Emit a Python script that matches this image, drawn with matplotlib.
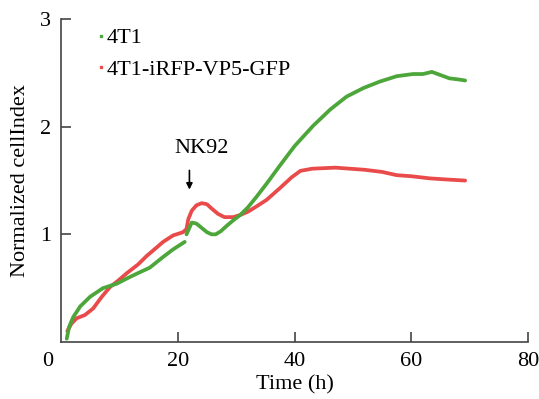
import matplotlib
matplotlib.use('Agg')
import matplotlib.pyplot as plt
from matplotlib.lines import Line2D

plt.rcParams['font.family'] = ['Liberation Serif', 'DejaVu Serif']

green_t1 = [1.0, 1.4, 2.1, 3.3, 5.0, 7.2, 9.5, 11.3, 13.2, 15.2, 17.5, 19.2, 21.2]
green_y1 = [0.03, 0.14, 0.23, 0.33, 0.42, 0.50, 0.54, 0.59, 0.64, 0.69, 0.79, 0.86, 0.93]
green_t2 = [21.5, 22.4, 23.2, 24.1, 25.0, 25.8, 26.5, 27.4, 28.4, 29.5, 30.7, 32.0,
            33.5, 35.2, 37.5, 40.0, 43.2, 46.1, 48.9, 51.8, 54.6, 57.5, 60.3, 62.0,
            63.5, 65.0, 66.5, 68.0, 69.2]
green_y2 = [1.00, 1.11, 1.10, 1.06, 1.02, 1.00, 1.00, 1.03, 1.08, 1.13, 1.18, 1.25,
            1.35, 1.47, 1.64, 1.82, 2.01, 2.16, 2.28, 2.36, 2.42, 2.47, 2.49, 2.49,
            2.51, 2.48, 2.45, 2.44, 2.43]

red_t = [1.1, 1.8, 2.7, 4.1, 5.5, 7.0, 8.4, 9.8, 11.3, 13.2, 14.7, 16.0, 17.5, 19.2,
         20.9, 21.5, 21.8, 22.4, 23.2, 24.1, 25.0, 25.8, 26.9, 28.0, 29.5, 30.7,
         32.0, 33.5, 35.2, 37.5, 39.5, 41.0, 43.0, 47.0, 52.0, 55.0, 57.5, 60.0,
         63.2, 66.0, 69.2]
red_y = [0.10, 0.17, 0.22, 0.25, 0.31, 0.42, 0.51, 0.57, 0.64, 0.72, 0.80, 0.86,
         0.93, 0.99, 1.02, 1.05, 1.14, 1.22, 1.27, 1.29, 1.28, 1.24, 1.19, 1.16,
         1.16, 1.18, 1.21, 1.26, 1.32, 1.43, 1.53, 1.59, 1.61, 1.62, 1.60, 1.58,
         1.55, 1.54, 1.52, 1.51, 1.50]

green = '#4ca63a'
red = '#e94a4a'
axis_col = '#444444'

fig = plt.figure(figsize=(5.39, 3.99), dpi=100)
ax = fig.add_axes([0.113, 0.143, 0.867, 0.809])

ax.plot(red_t, red_y, color=red, lw=2.7, solid_capstyle='round', solid_joinstyle='round')
ax.plot(green_t1, green_y1, color=green, lw=2.7, solid_capstyle='round', solid_joinstyle='round')
ax.plot(green_t2, green_y2, color=green, lw=2.7, solid_capstyle='round', solid_joinstyle='round')

ax.set_xlim(0, 80)
ax.set_ylim(0, 3)
ax.set_xticks([20, 40, 60, 80])
ax.set_yticks([1, 2, 3])
ax.tick_params(direction='in', length=7, width=1.2, color=axis_col,
               labelsize=16, pad=7)
for s in ['top', 'right']:
    ax.spines[s].set_visible(False)
for s in ['left', 'bottom']:
    ax.spines[s].set_color(axis_col)
    ax.spines[s].set_linewidth(1.2)

ax.text(-2.2, -0.185, '0', ha='center', va='center', fontsize=16, clip_on=False)
ax.set_xlabel('Time (h)', fontsize=16, labelpad=3)
ax.set_ylabel('Normalized cellIndex', fontsize=16, labelpad=7)

ax.annotate('', xy=(22, 1.39), xytext=(22, 1.62),
            arrowprops=dict(arrowstyle='-|>', color='black', lw=1.2, mutation_scale=9))
ax.text(24.0, 1.8, 'NK92', ha='center', va='center', fontsize=16)

handles = [Line2D([], [], ls='', marker='s', markersize=2, color=green),
           Line2D([], [], ls='', marker='s', markersize=2, color=red)]
ax.legend(handles, ['4T1', '4T1-iRFP-VP5-GFP'], loc='upper left',
          bbox_to_anchor=(0.035, 1.035), frameon=False, fontsize=16,
          handlelength=0.3, handletextpad=0.1, labelspacing=0.5)

fig.savefig('out.png', dpi=100)
